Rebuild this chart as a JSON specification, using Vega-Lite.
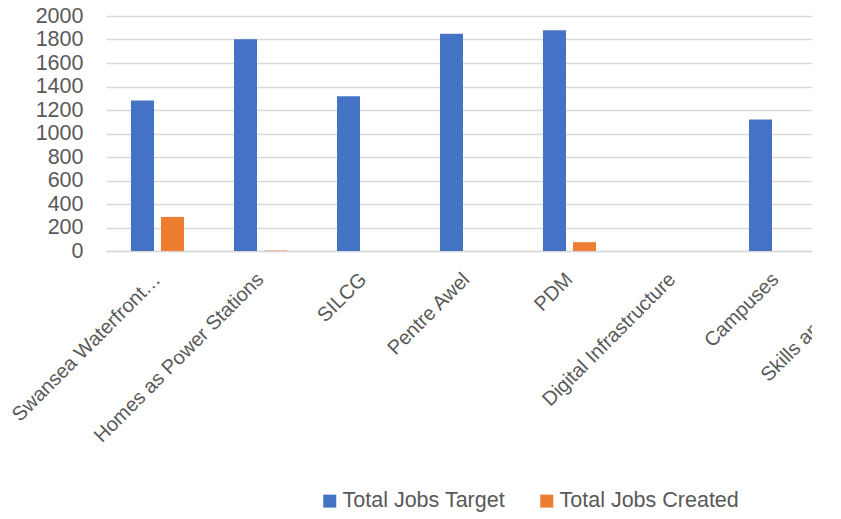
{
  "$schema": "https://vega.github.io/schema/vega-lite/v6.json",
  "autosize": {"type": "none"},
  "padding": {"left": 106, "top": 16, "right": 0, "bottom": 268},
  "width": 706,
  "height": 235,
  "background": "white",
  "config": {
    "font": "Liberation Sans",
    "view": {"stroke": null},
    "axis": {"labelFont": "Liberation Sans", "labelColor": "#595959", "labelFontSize": 21.5}
  },
  "data": {
    "values": [
      {"project": "Swansea Waterfront…", "series": "Total Jobs Target", "jobs": 1280},
      {"project": "Swansea Waterfront…", "series": "Total Jobs Created", "jobs": 290},
      {"project": "Homes as Power Stations", "series": "Total Jobs Target", "jobs": 1802},
      {"project": "Homes as Power Stations", "series": "Total Jobs Created", "jobs": 4},
      {"project": "SILCG", "series": "Total Jobs Target", "jobs": 1317},
      {"project": "SILCG", "series": "Total Jobs Created", "jobs": 0},
      {"project": "Pentre Awel", "series": "Total Jobs Target", "jobs": 1850},
      {"project": "Pentre Awel", "series": "Total Jobs Created", "jobs": 0},
      {"project": "PDM", "series": "Total Jobs Target", "jobs": 1878},
      {"project": "PDM", "series": "Total Jobs Created", "jobs": 75},
      {"project": "Digital Infrastructure", "series": "Total Jobs Target", "jobs": 0},
      {"project": "Digital Infrastructure", "series": "Total Jobs Created", "jobs": 0},
      {"project": "Campuses", "series": "Total Jobs Target", "jobs": 1120},
      {"project": "Campuses", "series": "Total Jobs Created", "jobs": 0}
    ]
  },
  "mark": {"type": "bar"},
  "encoding": {
    "x": {
      "field": "project",
      "type": "nominal",
      "sort": null,
      "scale": {
        "domain": ["Swansea Waterfront…", "Homes as Power Stations", "SILCG", "Pentre Awel", "PDM", "Digital Infrastructure", "Campuses", "Skills and Talent"],
        "range": [0, 824],
        "paddingInner": 0.485,
        "paddingOuter": 0.2425
      },
      "axis": {
        "title": null,
        "labelAngle": -45,
        "labelAlign": "right",
        "labelBaseline": "middle",
        "labelPadding": 25,
        "labelOffset": {"condition": {"test": "datum.value === 'Skills and Talent'", "value": -12}, "value": 0},
        "labelFontSize": 20,
        "ticks": false,
        "domainColor": "#D9D9D9",
        "domainWidth": 1.3,
        "labelLimit": 400,
        "labelOverlap": false
      }
    },
    "xOffset": {
      "field": "series",
      "type": "nominal",
      "sort": ["Total Jobs Target", "Total Jobs Created"],
      "scale": {"paddingInner": 0.233, "paddingOuter": 0}
    },
    "y": {
      "field": "jobs",
      "type": "quantitative",
      "scale": {"domain": [0, 2000], "nice": false},
      "axis": {
        "title": null,
        "format": "d",
        "values": [0, 200, 400, 600, 800, 1000, 1200, 1400, 1600, 1800, 2000],
        "ticks": false,
        "domain": false,
        "labelPadding": 23,
        "gridColor": "#D9D9D9",
        "gridWidth": 1.3
      }
    },
    "color": {
      "field": "series",
      "type": "nominal",
      "scale": {"domain": ["Total Jobs Target", "Total Jobs Created"], "range": ["#4472C4", "#ED7D31"]},
      "legend": {
        "title": null,
        "orient": "none",
        "direction": "horizontal",
        "legendX": 213,
        "legendY": 474,
        "symbolType": "square",
        "symbolSize": 169,
        "symbolStrokeWidth": 0,
        "symbolOpacity": 1,
        "labelFontSize": 21.5,
        "labelColor": "#595959",
        "labelFont": "Liberation Sans",
        "labelOffset": 2,
        "columnPadding": 30,
        "labelLimit": 400
      }
    }
  }
}
